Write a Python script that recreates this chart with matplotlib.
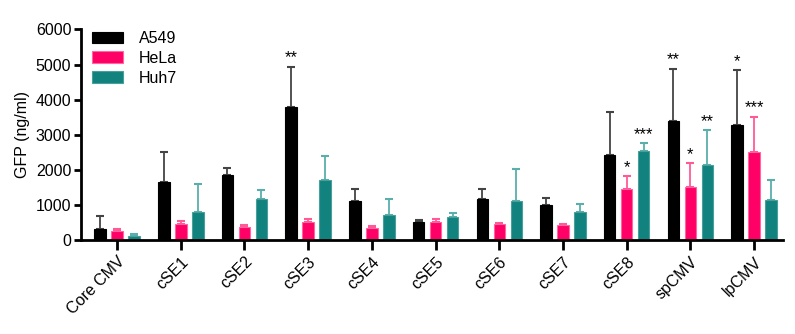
import matplotlib
matplotlib.use("Agg")
import matplotlib.pyplot as plt
import numpy as np

plt.rcParams['font.family'] = ['Liberation Sans', 'DejaVu Sans']

categories = ["Core CMV", "cSE1", "cSE2", "cSE3", "cSE4", "cSE5", "cSE6", "cSE7", "cSE8", "spCMV", "lpCMV"]
series_names = ["A549", "HeLa", "Huh7"]
a549 = [305, 1650, 1860, 3800, 1120, 513, 1177, 997, 2430, 3400, 3280]
a549_err = [380, 850, 190, 1140, 335, 66, 270, 210, 1225, 1480, 1560]
hela = [265, 447, 375, 521, 333, 513, 456, 437, 1444, 1519, 2516]
hela_err = [50, 105, 55, 77, 57, 94, 20, 23, 370, 675, 1000]
huh7 = [118, 798, 1168, 1700, 721, 646, 1120, 798, 2536, 2137, 1140]
huh7_err = [48, 790, 250, 700, 456, 132, 912, 228, 228, 988, 561]
a549_sig = ["", "", "", "**", "", "", "", "", "", "**", "*"]
hela_sig = ["", "", "", "", "", "", "", "", "*", "*", "***"]
huh7_sig = ["", "", "", "", "", "", "", "", "***", "**", ""]
yticks = [0, 1000, 2000, 3000, 4000, 5000, 6000]

colors = ["#000000", "#FF0066", "#12827E"]
err_colors = ["#444444", "#FF5A96", "#5AAFAA"]
edge_colors = ["#000000", "#FF66A0", "#4A9F9B"]

fig = plt.figure(figsize=(7.95, 3.34), dpi=100)
ax = fig.add_axes([0.102, 0.281, 0.883, 0.631])

x = np.arange(len(categories))
offsets = [-0.267, 0, 0.267]
width = 0.18
data = [(a549, a549_err, a549_sig), (hela, hela_err, hela_sig), (huh7, huh7_err, huh7_sig)]
for i, (vals, errs, sigs) in enumerate(data):
    xs = x + offsets[i]
    ax.bar(xs, vals, width=width, color=colors[i], edgecolor=edge_colors[i],
           linewidth=0.8, label=series_names[i], zorder=2)
    ax.errorbar(xs, vals, yerr=[np.zeros(len(vals)), errs], fmt='none',
                ecolor=err_colors[i], elinewidth=1.3, capsize=3, capthick=1.5, zorder=1)
    for xi, v, e, s in zip(xs, vals, errs, sigs):
        if s:
            ax.text(xi, v + e + 40, s, ha='center', va='bottom', fontsize=12, color='black')

ax.set_xlim(-0.565, len(categories) - 1 + 0.455)
ax.set_ylim(0, 6000)
ax.set_yticks(yticks)
ax.set_yticklabels([str(t) for t in yticks], fontsize=11.5)
ax.set_xticks(x)
ax.set_xticklabels(categories, rotation=45, ha='right', rotation_mode='anchor', fontsize=11.5)
ax.set_ylabel("GFP (ng/ml)", fontsize=11.5, labelpad=4)

for s in ['top', 'right']:
    ax.spines[s].set_visible(False)
for s in ['left', 'bottom']:
    ax.spines[s].set_linewidth(2)
ax.tick_params(axis='y', length=5, width=2, pad=2)
ax.tick_params(axis='x', length=7, width=2, pad=3)

leg = ax.legend(loc='upper left', bbox_to_anchor=(0.0, 1.045), frameon=False, fontsize=11.5,
                handlelength=1.9, handleheight=0.75, labelspacing=0.3, handletextpad=1.0,
                borderaxespad=0.3)

fig.savefig("out.png", dpi=100)
